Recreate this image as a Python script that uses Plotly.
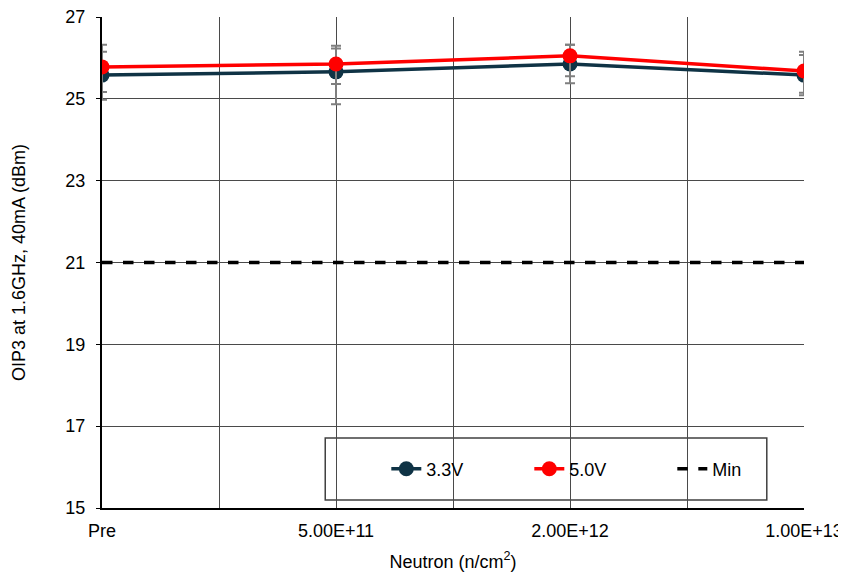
import plotly.graph_objects as go

categories = ["Pre", "5.00E+11", "2.00E+12", "1.00E+13"]
v33 = [25.58, 25.66, 25.85, 25.58]
v33_plus = [0.57, 0.57, 0.47, 0.49]
v33_minus = [0.60, 0.79, 0.47, 0.49]
v50 = [25.78, 25.85, 26.05, 25.68]
v50_plus = [0.54, 0.45, 0.27, 0.47]
v50_minus = [0.61, 0.49, 0.50, 0.53]
min_value = 21
y_ticks = [15, 17, 19, 21, 23, 25, 27]

xpos = list(range(len(categories)))
FONT = "Liberation Sans, Arial, sans-serif"
C33 = "#0F3345"
C50 = "#FF0000"

fig = go.Figure()
fig.add_trace(go.Scatter(
    x=xpos, y=v33, name="3.3V", mode="lines+markers",
    line=dict(color=C33, width=3.5), marker=dict(color=C33, size=15),
    error_y=dict(type="data", array=v33_plus, arrayminus=v33_minus,
                 color="#7f7f7f", thickness=2, width=5)))
fig.add_trace(go.Scatter(
    x=xpos, y=v50, name="5.0V", mode="lines+markers",
    line=dict(color=C50, width=3.5), marker=dict(color=C50, size=15),
    error_y=dict(type="data", array=v50_plus, arrayminus=v50_minus,
                 color="#7f7f7f", thickness=2, width=5)))
fig.add_trace(go.Scatter(
    x=[xpos[0], xpos[-1]], y=[min_value, min_value], name="Min", mode="lines",
    line=dict(color="black", width=3.5, dash="dash")))

# legend box
fig.add_shape(type="rect", xref="paper", yref="paper",
              x0=0.318, x1=0.947, y0=0.0163, y1=0.1426,
              fillcolor="white", line=dict(color="#404040", width=1.5),
              layer="below")

fig.update_layout(
    width=838, height=564,
    margin=dict(l=94, r=42, t=9, b=64, autoexpand=False),
    paper_bgcolor="white", plot_bgcolor="white",
    font=dict(family=FONT, size=18, color="black"),
    showlegend=True,
    legend=dict(orientation="h", x=0.405, y=0.0794, xanchor="left", yanchor="middle",
                bgcolor="rgba(0,0,0,0)", borderwidth=0, entrywidth=98,
                font=dict(family=FONT, size=18, color="black")),
    xaxis=dict(range=[0, 3], tickmode="array", tickvals=xpos, ticktext=categories,
               showgrid=True, gridcolor="#4a4a4a", gridwidth=1,
               minor=dict(tick0=0, dtick=0.5, showgrid=True, gridcolor="#4a4a4a", gridwidth=1),
               showline=True, linecolor="black", linewidth=2,
               ticks="", zeroline=False, automargin=False, ticklabelstandoff=5,
               ticklabeloverflow="allow",
               title=dict(text="Neutron (n/cm<sup>2</sup>)", font=dict(size=18), standoff=19)),
    yaxis=dict(range=[15, 27], tickmode="array", tickvals=y_ticks,
               showgrid=True, gridcolor="#4a4a4a", gridwidth=1,
               showline=True, linecolor="black", linewidth=2,
               ticks="outside", ticklen=4, tickcolor="black", zeroline=False, automargin=False,
               ticklabelstandoff=7, ticklabeloverflow="allow",
               title=dict(text="OIP3 at 1.6GHz, 40mA (dBm)", font=dict(size=18), standoff=35)),
)

fig.write_html("out.html")
